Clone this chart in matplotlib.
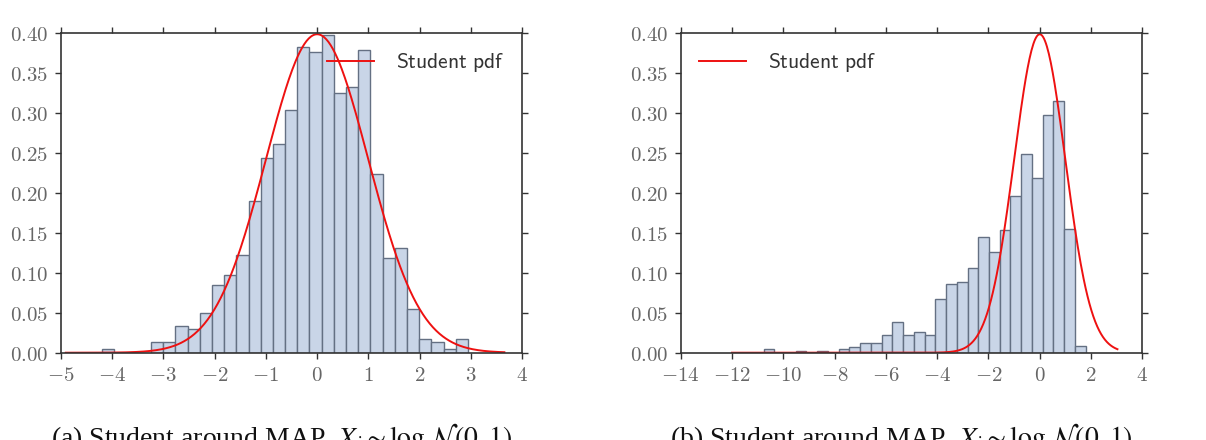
import numpy as np
import matplotlib
matplotlib.use("Agg")
import matplotlib.pyplot as plt
from math import gamma, sqrt, pi

# --- data ------------------------------------------------------------------
# panel (a): 30 density-normalised bins between the sample min and max
a_range = (-4.19, 2.94)
a_heights = [0.005, 0.0, 0.0, 0.0, 0.013, 0.013, 0.034, 0.030, 0.050, 0.085,
             0.097, 0.122, 0.190, 0.244, 0.261, 0.304, 0.383, 0.376, 0.397, 0.325,
             0.333, 0.379, 0.223, 0.118, 0.131, 0.055, 0.017, 0.013, 0.005, 0.017]
a_curve_span = (-4.9, 3.65)

# panel (b)
b_range = (-10.77, 1.79)
b_heights = [0.005, 0.0, 0.0, 0.0024, 0.0, 0.0024, 0.0, 0.005, 0.0075, 0.0125,
             0.0125, 0.022, 0.0385, 0.022, 0.026, 0.022, 0.067, 0.086, 0.088, 0.1055,
             0.145, 0.1265, 0.153, 0.196, 0.248, 0.219, 0.298, 0.315, 0.1545, 0.009]
b_curve_span = (-12.0, 3.03)

student_df = 200
student_loc = 0.0
student_scale = 1.0

xlims = [(-5, 4), (-14, 4)]
xticks = [list(range(-5, 5)), list(range(-14, 5, 2))]
yticks = [0.0, 0.05, 0.10, 0.15, 0.20, 0.25, 0.30, 0.35, 0.40]
legend_locs = ["upper right", "upper left"]
captions = [r"(a) Student around MAP, $X_i \sim \log\mathcal{N}(0,1)$",
            r"(b) Student around MAP, $X_i \sim \log\mathcal{N}(0,1)$"]


def student_pdf(x, df, loc, scale):
    z = (x - loc) / scale
    c = gamma((df + 1) / 2) / (sqrt(df * pi) * gamma(df / 2))
    return c * (1 + z ** 2 / df) ** (-(df + 1) / 2) / scale


plt.rcParams["mathtext.fontset"] = "cm"

fig = plt.figure(figsize=(12.06, 4.4), dpi=100)
ax_left = fig.add_axes([0.0503, 0.1984, 0.3828, 0.7266])
ax_right = fig.add_axes([0.5644, 0.1984, 0.3828, 0.7266])

panels = [(ax_left, a_range, a_heights, a_curve_span),
          (ax_right, b_range, b_heights, b_curve_span)]

for i, (ax, rng, heights, span) in enumerate(panels):
    edges = np.linspace(rng[0], rng[1], len(heights) + 1)
    ax.hist(edges[:-1], bins=edges, weights=heights,
            facecolor="#c9d5e7", edgecolor="#647083", linewidth=1.0)
    xs = np.linspace(span[0], span[1], 400)
    ax.plot(xs, student_pdf(xs, student_df, student_loc, student_scale),
            color="#ee1111", linewidth=1.4, label=r"$\mathsf{Student\ pdf}$")

    ax.set_xlim(*xlims[i])
    ax.set_ylim(0, 0.40)
    ax.set_xticks(xticks[i])
    ax.set_yticks(yticks)
    ax.set_xticklabels([r"$%d$" % t if t >= 0 else r"$-%d$" % -t for t in xticks[i]])
    ax.set_yticklabels([r"$%.2f$" % t for t in yticks])

    for s in ax.spines.values():
        s.set_color("#333333")
        s.set_linewidth(1.2)
    ax.tick_params(direction="out", length=4, width=1, color="#333333",
                   top=True, right=True, labelsize=15, labelcolor="#666666", pad=5)

    leg = ax.legend(loc=legend_locs[i], frameon=False, fontsize=15.5,
                    handlelength=2.2, handletextpad=1.0, borderaxespad=0.45)
    for t in leg.get_texts():
        t.set_color("#333333")

    pos = ax.get_position()
    fig.text(pos.x0 + pos.width / 2 - 0.008, 1 - 421 / 440, captions[i],
             ha="center", va="top", fontsize=20, family="Liberation Serif",
             math_fontfamily="stix", color="#111111")

fig.savefig("out.png", dpi=100)
